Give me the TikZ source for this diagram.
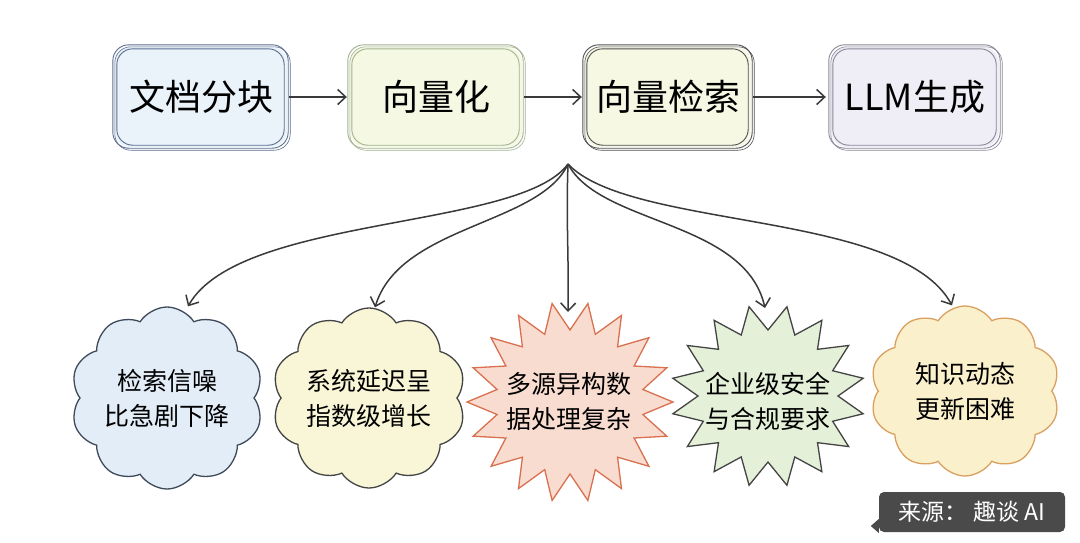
\documentclass[tikz,border=0pt]{standalone}
\usepackage{fontspec}
\setmainfont{Noto Sans CJK SC}
\usetikzlibrary{shapes.symbols,shapes.geometric,arrows.meta}
\definecolor{bAfill}{HTML}{EAF2FA}\definecolor{bAline}{HTML}{5A6E90}
\definecolor{bBfill}{HTML}{F5F8E2}\definecolor{bBline}{HTML}{A3B28E}
\definecolor{bCfill}{HTML}{F6F8E4}\definecolor{bCline}{HTML}{505050}
\definecolor{bDfill}{HTML}{EFEEF6}\definecolor{bDline}{HTML}{8A8598}
\definecolor{cAfill}{HTML}{E2EDF8}\definecolor{cAline}{HTML}{3F4A5A}
\definecolor{cBfill}{HTML}{F8F6D6}\definecolor{cBline}{HTML}{444444}
\definecolor{sCfill}{HTML}{F8DCD0}\definecolor{sCline}{HTML}{D9704F}
\definecolor{sDfill}{HTML}{E4F0D8}\definecolor{sDline}{HTML}{444444}
\definecolor{cEfill}{HTML}{FBF0CC}\definecolor{cEline}{HTML}{D9A060}
\definecolor{tagfill}{HTML}{4A4A4A}
\definecolor{arrowc}{HTML}{3A3A3A}
\tikzset{
  stagebox/.style={rounded corners=16pt, minimum width=172pt, minimum height=100pt, font=\fontsize{36}{40}\selectfont, inner sep=0pt},
  sketch/.style={rounded corners=16pt, line width=0.9pt},
  flow/.style={draw=arrowc, line width=1.5pt, -{Straight Barb[length=8pt,width=15pt,line width=1.5pt]}},
  fan/.style={draw=arrowc, line width=1.5pt, -{Straight Barb[length=8pt,width=15pt,line width=1.5pt]}},
  cloudnode/.style={cloud, cloud puffs=10, cloud puff arc=115, cloud ignores aspect, line width=1.3pt, align=center, font=\fontsize{25}{35}\selectfont},
  startext/.style={align=center, inner sep=0pt, font=\fontsize{25}{35}\selectfont},
  starline/.style={line width=1.3pt, line join=miter},
}
\begin{document}
\begin{tikzpicture}[x=1pt,y=-1pt]
\useasboundingbox (0,0) rectangle (1080,542);
\fill[white] (0,0) rectangle (1080,542);
% top stages
\node[stagebox, fill=bAfill] (b1) at (201,97) {文档分块};
\node[stagebox, fill=bBfill] (b2) at (436,97) {向量化};
\node[stagebox, fill=bCfill, minimum width=166pt] (b3) at (668,97) {向量检索};
\node[stagebox, fill=bDfill, minimum width=168pt] (b4) at (915,97) {LLM生成};
\foreach \n/\c in {b1/bAline,b2/bBline,b3/bCline,b4/bDline}{
  \draw[sketch, draw=\c] ([shift={(-2,1)}]\n.south west) rectangle ([shift={(1,-2)}]\n.north east);
  \draw[sketch, draw=\c] ([shift={(2,-2)}]\n.south west) rectangle ([shift={(-3,2)}]\n.north east);
  \draw[sketch, draw=\c, line width=0.6pt] ([shift={(0,3)}]\n.south west) rectangle ([shift={(3,0)}]\n.north east);
}
\draw[flow] (b1.east) ++(2,0) -- ([xshift=-3pt]b2.west);
\draw[flow] (b2.east) ++(2,0) -- ([xshift=-3pt]b3.west);
\draw[flow] (b3.east) ++(2,0) -- ([xshift=-5pt]b4.west);
% problems: clouds
\node[cloudnode, draw=cAline, fill=cAfill, minimum width=192pt, minimum height=182pt] (p1) at (167,398) {检索信噪\\比急剧下降};
\node[cloudnode, draw=cBline, fill=cBfill, minimum width=194pt, minimum height=180pt] (p2) at (369,398) {系统延迟呈\\指数级增长};
\node[cloudnode, draw=cEline, fill=cEfill, minimum width=190pt, minimum height=170pt] (p5) at (965,391) {知识动态\\更新困难};
% problems: stars
\draw[starline, draw=sCline, fill=sCfill]
  plot[samples at={0,...,35}] ({570+ifthenelse(mod(\x,2)==0,103,74)*cos(\x*10-80)}, {402+ifthenelse(mod(\x,2)==0,100,72)*sin(\x*10-80)}) -- cycle;
\node[startext] (p3) at (569,401) {多源异构数\\据处理复杂};
\draw[starline, draw=sDline, fill=sDfill]
  plot[samples at={0,...,31}] ({768+ifthenelse(mod(\x,2)==0,97,70)*cos(\x*11.25-78.75)}, {396+ifthenelse(mod(\x,2)==0,91,66)*sin(\x*11.25-78.75)}) -- cycle;
\node[startext] (p4) at (768,401) {企业级安全\\与合规要求};
% fan arrows
\coordinate (fo) at (568,164);
\coordinate (t3) at (568,312);
\coordinate (t4) at (765,308);
\draw[fan] (fo) .. controls (520,230) and (240,215) .. ([xshift=21pt]p1.north);
\draw[fan] (fo) .. controls (540,225) and (400,225) .. ([xshift=6pt]p2.north);
\draw[fan] (fo) .. controls (566,220) and (569,260) .. (t3);
\draw[fan] (fo) .. controls (600,225) and (745,220) .. (t4);
\draw[fan] (fo) .. controls (630,230) and (900,210) .. ([xshift=-13pt]p5.north);
% source tag
\node[fill=tagfill, text=white, rounded corners=5pt, font=\fontsize{23}{26}\selectfont, minimum width=186pt, minimum height=40pt, inner sep=0pt] (tag) at (972,512) {来源：\ 趣谈 AI};
\fill[tagfill] ([yshift=-7pt]tag.west) -- ++(-8,7) -- ++(8,7) -- cycle;
\end{tikzpicture}
\end{document}
